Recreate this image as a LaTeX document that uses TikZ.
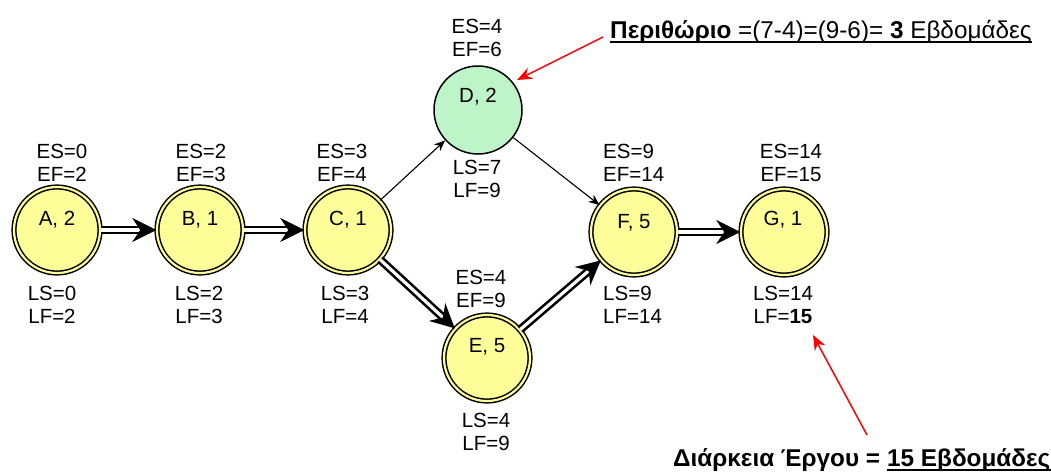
\documentclass[tikz,border=0pt]{standalone}
\usepackage{fontspec}
\setmainfont{Liberation Sans}
\usetikzlibrary{arrows.meta}
\definecolor{nodeyellow}{RGB}{255,255,153}
\definecolor{nodegreen}{RGB}{190,245,200}
\definecolor{annred}{RGB}{255,0,0}
\begin{document}
\begin{tikzpicture}[x=1pt,y=-1pt,
 event/.style={circle, draw=black, line width=1.5pt, double=nodeyellow, double distance=2.2pt, fill=nodeyellow, minimum size=86pt, inner sep=0pt},
 slack/.style={circle, draw=black, line width=1.5pt, fill=nodegreen, minimum size=88pt, inner sep=0pt},
 lbl/.style={font=\fontsize{20.5}{23}\selectfont, inner sep=0pt},
 times/.style={font=\fontsize{20.5}{23}\selectfont, align=center, inner sep=0pt},
 ltimes/.style={font=\fontsize{20.5}{23}\selectfont, align=left, inner sep=0pt, anchor=west},
 crit/.style={draw=black, line width=2.6pt, double=white, double distance=3.2pt, -{Stealth[length=24pt,width=24pt,inset=8pt]}},
 thinarr/.style={draw=black, line width=1.1pt, -{Stealth[length=11pt,width=9pt]}},
 note/.style={draw=annred, line width=1.5pt, -{Stealth[length=15pt,width=12pt]}},
 ann/.style={font=\fontsize{24.3}{28}\selectfont, inner sep=0pt, anchor=base west},
]
\useasboundingbox (0,0) rectangle (1051,472);

% events
\node[event] (A) at (57,230) {};
\node[event] (B) at (200,230) {};
\node[event] (C) at (348,230) {};
\node[slack] (D) at (478,110) {};
\node[event] (E) at (487,358) {};
\node[event] (F) at (634,232) {};
\node[event] (G) at (784,232) {};

% names
\node[lbl] (nA) at (57,220) {A, 2};
\node[lbl] (nB) at (200,220) {B, 1};
\node[lbl] (nC) at (348,220) {C, 1};
\node[lbl] (nD) at (478,97) {D, 2};
\node[lbl] (nE) at (487,347) {E, 5};
\node[lbl] (nF) at (634,223) {F, 5};
\node[lbl] (nG) at (783,220) {G, 1};

% early times
\node[times] (eA) at (62,162.5) {ES=0\\EF=2};
\node[times] (eB) at (201,162.5) {ES=2\\EF=3};
\node[times] (eC) at (342,162.5) {ES=3\\EF=4};
\node[times] (eD) at (477,37.5) {ES=4\\EF=6};
\node[times] (eE) at (481,288.5) {ES=4\\EF=9};
\node[ltimes] (eF) at (603,162.5) {ES=9\\EF=14};
\node[times] (eG) at (791,162.5) {ES=14\\EF=15};

% late times
\node[times] (lA) at (52,305) {LS=0\\LF=2};
\node[times] (lB) at (199,305) {LS=2\\LF=3};
\node[times] (lC) at (345,305) {LS=3\\LF=4};
\node[times] (lD) at (477,178.5) {LS=7\\LF=9};
\node[times] (lE) at (486,431.5) {LS=4\\LF=9};
\node[ltimes] (lF) at (603,305) {LS=9\\LF=14};
\node[times] (lG) at (783,305) {LS=14\\LF=\textbf{15}};

% activities
\draw[crit] (A) -- (B);
\draw[crit] (B) -- (C);
\draw[crit] (C) -- (E);
\draw[crit] (E) -- (F);
\draw[crit] (F) -- (G);
\draw[thinarr] (C) -- (D);
\draw[thinarr] (D) -- (F);

% annotations
\node[ann] (hdr) at (610,38) {\textbf{Περιθώριο} =(7-4)=(9-6)= \textbf{3} Εβδομάδες};
\draw[line width=2pt] ([yshift=-4pt]hdr.base west) -- ([yshift=-4pt]hdr.base east);
\coordinate (h1) at (603,37);
\coordinate (h2) at (517,80);
\draw[note] (h1) -- (h2);

\node[ann] (dur1) at (673,466) {\textbf{Διάρκεια Έργου =}};
\node[ann] (dur2) at ([xshift=6.7pt]dur1.base east) {\textbf{15 Εβδομάδες}};
\draw[line width=2pt] ([yshift=-3.5pt]dur2.base west) -- ([yshift=-3.5pt]dur2.base east);
\coordinate (d1) at (867,435);
\coordinate (d2) at (813,335);
\draw[note] (d1) -- (d2);
\end{tikzpicture}
\end{document}
